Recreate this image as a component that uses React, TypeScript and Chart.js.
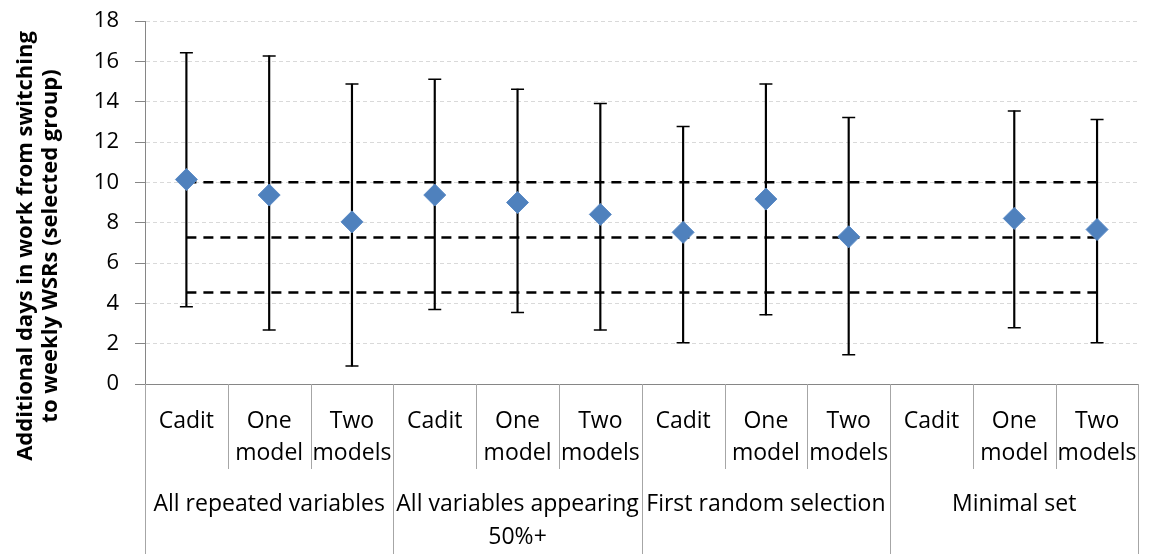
import React, { useEffect, useRef } from "react";
import { Chart, registerables } from "chart.js";

Chart.register(...registerables);

const categories: string[][] = [
  ["Cadit"], ["One", "model"], ["Two", "models"],
  ["Cadit"], ["One", "model"], ["Two", "models"],
  ["Cadit"], ["One", "model"], ["Two", "models"],
  ["Cadit"], ["One", "model"], ["Two", "models"],
];
const groups: string[][] = [
  ["All repeated variables"],
  ["All variables appearing", "50%+"],
  ["First random selection"],
  ["Minimal set"],
];
const means = [10.14, 9.37, 8.04, 9.37, 9.0, 8.41, 7.52, 9.17, 7.3, null, 8.21, 7.66];
const upper = [16.42, 16.27, 14.87, 15.11, 14.62, 13.91, 12.77, 14.87, 13.21, null, 13.54, 13.11];
const lower = [3.83, 2.68, 0.89, 3.7, 3.55, 2.68, 2.05, 3.43, 1.45, null, 2.79, 2.05];
const refHigh = [10, 10, 10, 10, 10, 10, 10, 10, 10, 10, 10, 10];
const refMid = [7.27, 7.27, 7.27, 7.27, 7.27, 7.27, 7.27, 7.27, 7.27, 7.27, 7.27, 7.27];
const refLow = [4.54, 4.54, 4.54, 4.54, 4.54, 4.54, 4.54, 4.54, 4.54, 4.54, 4.54, 4.54];
const yMin = 0;
const yMax = 18;
const yStep = 2;
const yTitle = ["Additional days in work from switching", "to weekly WSRs (selected group)"];

const FONT = "'Open Sans', 'Liberation Sans', sans-serif";
const AXIS_GRAY = "#868686";
const SEP_GRAY = "#a6a6a6";

const overlayPlugin = {
  id: "overlay",
  afterDraw(chart: any) {
    const ctx = chart.ctx as CanvasRenderingContext2D;
    const xs = chart.scales.x;
    const area = chart.chartArea;
    const n = categories.length;
    const spacing = xs.getPixelForValue(1) - xs.getPixelForValue(0);
    ctx.save();
    // separators
    ctx.strokeStyle = SEP_GRAY;
    ctx.lineWidth = 1;
    for (let i = 0; i <= n; i++) {
      const x = Math.round(xs.getPixelForValue(0) - spacing / 2 + i * spacing) + 0.5;
      const yEnd = i % 3 === 0 ? chart.height : area.bottom + 85;
      ctx.beginPath();
      ctx.moveTo(x, area.bottom);
      ctx.lineTo(x, yEnd);
      ctx.stroke();
    }
    // group labels
    ctx.fillStyle = "#000";
    ctx.font = `23px ${FONT}`;
    ctx.textAlign = "center";
    ctx.textBaseline = "alphabetic";
    groups.forEach((lines, g) => {
      const cx = (xs.getPixelForValue(g * 3) + xs.getPixelForValue(g * 3 + 2)) / 2;
      lines.forEach((t, k) => ctx.fillText(t, cx, 511 + k * 33));
    });
    // y title
    ctx.font = `bold 22px ${FONT}`;
    ctx.translate(32, 246);
    ctx.rotate(-Math.PI / 2);
    yTitle.forEach((t, k) => ctx.fillText(t, 0, k * 25));
    ctx.restore();
  },
};

export default function App() {
  const ref = useRef<HTMLCanvasElement | null>(null);
  useEffect(() => {
    document.body.style.margin = "0";
    if (!ref.current) return;
    const chart = new Chart(ref.current, {
      type: "line",
      data: {
        labels: categories as any,
        datasets: [
          {
            type: "line",
            data: means,
            showLine: false,
            pointStyle: "rectRot",
            pointRadius: 11,
            pointBackgroundColor: "#4F81BD",
            pointBorderColor: "#5A8AC6",
            pointBorderWidth: 1,
            order: 0,
          } as any,
          {
            type: "line",
            data: upper,
            showLine: false,
            pointStyle: "line",
            pointRadius: 6.5,
            pointBorderColor: "#000",
            pointBorderWidth: 1.5,
            order: 1,
          } as any,
          {
            type: "line",
            data: lower,
            showLine: false,
            pointStyle: "line",
            pointRadius: 6.5,
            pointBorderColor: "#000",
            pointBorderWidth: 1.5,
            order: 1,
          } as any,
          {
            type: "bar",
            data: lower.map((l, i) => (l === null || upper[i] === null ? null : [l, upper[i]])),
            backgroundColor: "#000",
            borderWidth: 0,
            barThickness: 1.5,
            order: 2,
          } as any,
          ...[refHigh, refMid, refLow].map((d) => ({
            type: "line",
            data: d,
            borderColor: "#000",
            borderWidth: 2.5,
            borderDash: [10, 7],
            pointRadius: 0,
            fill: false,
            order: 3,
          })),
        ] as any,
      },
      options: {
        responsive: false,
        animation: false,
        layout: { padding: { top: 21, right: 3, left: 0, bottom: 0 } },
        plugins: { legend: { display: false }, tooltip: { enabled: false } },
        scales: {
          x: {
            type: "category",
            offset: true,
            grid: { display: false, drawTicks: false },
            border: { color: AXIS_GRAY, width: 1 },
            ticks: {
              autoSkip: false,
              maxRotation: 0,
              color: "#000",
              padding: 21,
              font: { family: FONT, size: 23, lineHeight: "32px" } as any,
            },
            afterFit: (s: any) => {
              s.height = 170;
            },
          },
          y: {
            min: yMin,
            max: yMax,
            ticks: {
              stepSize: yStep,
              color: "#000",
              padding: 16,
              font: { family: FONT, size: 22 },
            },
            grid: {
              color: (c: any) => (c.tick && c.tick.value === 0 ? "rgba(0,0,0,0)" : "#d9d9d9"),
              tickColor: AXIS_GRAY,
              tickLength: 10,
              tickBorderDash: [1, 0],
            } as any,
            border: { color: AXIS_GRAY, width: 1, dash: [4, 3] },
            afterFit: (s: any) => {
              s.width = 145;
              s.paddingTop = 0;
              s.paddingBottom = 0;
            },
          },
        },
      },
      plugins: [overlayPlugin],
    });
    return () => chart.destroy();
  }, []);
  return <canvas ref={ref} width={1158} height={554} style={{ display: "block" }} />;
}
